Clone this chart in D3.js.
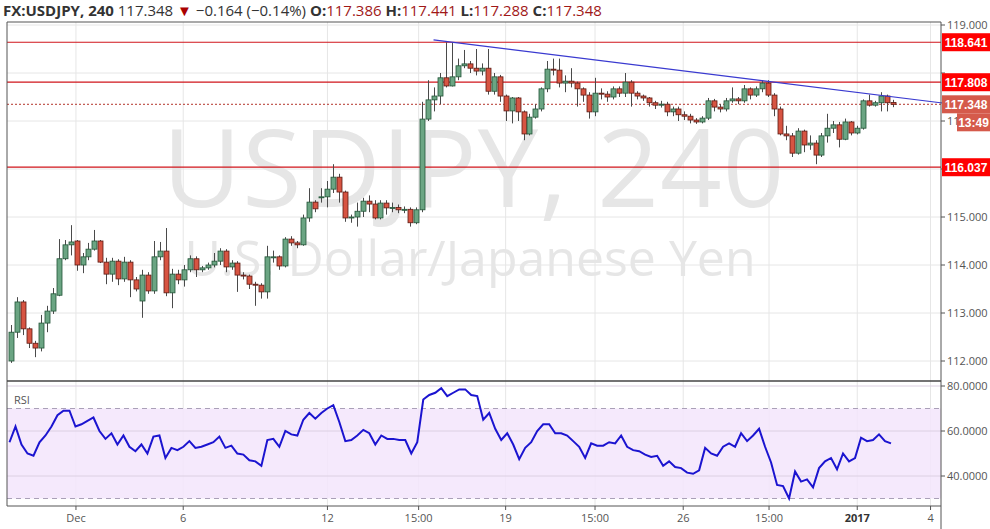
<!DOCTYPE html>
<html><head><meta charset="utf-8">
<script src="https://cdn.jsdelivr.net/npm/d3@7/dist/d3.min.js"></script>
<style>body{margin:0;background:#fff;}svg{display:block;font-family:"Open Sans",Arial,sans-serif;}</style>
</head><body><svg id="c" width="990" height="529"></svg>
<script>
// OHLC candles (4h)
const candles = [
[112.0,112.75,111.96,112.6],[112.6,113.33,112.48,113.23],[113.23,113.27,112.54,112.67],[112.67,112.7,112.27,112.37],[112.37,112.42,112.08,112.27],
[112.27,112.96,112.2,112.79],[112.79,113.15,112.6,113.04],[113.04,113.52,112.98,113.4],[113.37,114.54,113.35,114.13],[114.13,114.52,114.1,114.42],
[114.42,114.83,114.2,114.48],[114.5,114.52,113.88,114.0],[114.0,114.25,113.83,114.17],[114.17,114.46,114.1,114.33],[114.33,114.73,114.3,114.5],
[114.5,114.52,114.04,114.06],[114.06,114.15,113.6,113.81],[113.81,114.15,113.65,114.08],[114.08,114.12,113.58,113.71],[113.71,114.17,113.65,114.06],
[114.06,114.1,113.33,113.69],[113.69,113.75,113.45,113.5],[113.25,113.9,112.9,113.79],[113.79,113.85,113.4,113.46],[113.46,114.5,113.4,114.17],
[114.17,114.48,114.1,114.29],[114.29,114.77,113.35,113.42],[113.42,113.92,113.1,113.81],[113.81,113.9,113.6,113.69],[113.69,114.0,113.55,113.9],
[113.9,114.2,113.85,114.13],[114.13,114.18,113.75,113.9],[113.9,113.98,113.85,113.94],[113.94,114.05,113.9,114.0],[114.0,114.25,113.95,114.08],
[114.08,114.35,114.0,114.29],[114.29,114.33,113.85,113.96],[113.96,114.1,113.9,114.04],[114.04,114.08,113.44,113.79],[113.79,113.85,113.7,113.77],
[113.77,113.8,113.5,113.6],[113.6,113.65,113.15,113.58],[113.58,113.62,113.3,113.44],[113.44,114.4,113.3,114.17],[114.17,114.3,114.05,114.17],
[114.17,114.2,113.9,113.98],[113.98,114.58,113.95,114.54],[114.54,114.6,114.4,114.46],[114.46,114.5,114.35,114.42],[114.42,115.05,114.4,114.98],
[114.98,115.6,114.9,115.31],[115.31,115.35,115.1,115.17],[115.4,115.6,115.3,115.42],[115.42,115.75,115.2,115.58],[115.58,116.1,115.5,115.83],
[115.83,115.9,115.3,115.52],[115.52,115.55,114.9,114.98],[114.98,115.05,114.88,115.0],[115.0,115.3,114.8,115.12],[115.12,115.4,115.0,115.33],
[115.33,115.45,115.1,115.27],[115.27,115.35,114.95,114.98],[114.98,115.35,114.95,115.29],[115.29,115.35,115.05,115.19],[115.19,115.3,115.1,115.2],
[115.2,115.26,115.08,115.15],[115.15,115.22,115.08,115.16],[115.16,115.2,114.8,114.88],[114.88,115.2,114.85,115.15],[115.15,117.4,115.1,117.04],
[117.04,117.85,117.0,117.44],[117.44,117.7,117.2,117.52],[117.52,118.0,117.35,117.9],[117.9,118.64,117.7,117.73],[117.73,118.64,117.72,117.92],
[117.92,118.3,117.85,118.15],[118.15,118.48,118.1,118.19],[118.19,118.25,118.0,118.1],[118.1,118.5,117.95,118.04],[118.04,118.2,117.95,118.1],
[118.1,118.5,117.55,117.62],[117.62,118.0,117.55,117.92],[117.92,117.96,117.4,117.52],[117.52,117.55,117.0,117.21],[117.21,117.5,116.95,117.48],
[117.48,117.5,117.0,117.19],[117.19,117.22,116.6,116.73],[116.73,117.15,116.7,117.08],[117.08,117.35,117.05,117.25],[117.25,117.7,117.2,117.67],
[117.67,118.25,117.6,118.08],[118.08,118.3,117.95,118.06],[118.06,118.3,117.7,117.79],[117.79,117.95,117.6,117.83],[117.83,118.1,117.7,117.79],
[117.79,117.82,117.3,117.67],[117.67,117.7,117.4,117.54],[117.54,117.6,117.05,117.19],[117.19,117.9,117.1,117.58],[117.58,117.68,117.45,117.56],
[117.56,117.62,117.4,117.5],[117.5,117.72,117.45,117.67],[117.67,117.72,117.5,117.58],[117.58,118.0,117.5,117.81],[117.81,117.85,117.3,117.58],
[117.58,117.62,117.45,117.52],[117.52,117.55,117.42,117.48],[117.48,117.5,117.3,117.38],[117.38,117.42,117.25,117.33],[117.33,117.42,117.28,117.35],
[117.35,117.4,117.1,117.19],[117.19,117.3,117.1,117.25],[117.25,117.3,117.0,117.13],[117.13,117.2,117.02,117.1],[117.1,117.15,116.95,117.02],
[117.02,117.06,116.94,116.98],[116.98,117.1,116.95,117.06],[117.06,117.48,117.02,117.42],[117.42,117.46,117.2,117.29],[117.29,117.35,117.18,117.25],
[117.25,117.48,117.2,117.42],[117.42,117.7,117.38,117.46],[117.46,117.5,117.35,117.42],[117.42,117.75,117.38,117.67],[117.67,117.7,117.45,117.54],
[117.54,117.72,117.5,117.67],[117.67,117.85,117.6,117.79],[117.79,117.85,117.5,117.54],[117.54,117.58,117.1,117.25],[117.25,117.3,116.7,116.73],
[116.73,116.9,116.6,116.69],[116.69,116.75,116.25,116.33],[116.33,116.85,116.3,116.79],[116.79,116.82,116.35,116.5],[116.5,116.7,116.4,116.54],
[116.54,116.6,116.1,116.29],[116.29,116.75,116.25,116.69],[116.69,117.15,116.55,116.85],[116.85,117.0,116.75,116.92],[116.92,116.98,116.45,116.62],
[116.62,117.05,116.6,116.98],[116.98,117.0,116.7,116.75],[116.75,116.9,116.72,116.85],[116.85,117.45,116.82,117.42],[117.42,117.55,117.3,117.33],
[117.33,117.42,117.3,117.38],[117.38,117.6,117.2,117.52],[117.52,117.55,117.2,117.38],[117.386,117.441,117.288,117.348]
];
const rsi = [55,62,54,50,49,55,58,62,67,69,69,62,63,64.5,66,60,56.5,59,54,58,53,51,54,50,57.5,58,48,52.5,51.5,53,55.5,52.5,53,54,55,57.5,52.5,53.5,50,49.5,47,46.5,44.5,56,56.5,53,60,58.5,58,65,68,65.5,68,70,71.5,64,55.5,56,58,60.5,59,54,58,56.5,56.5,56,56,50,55,74,76,77,79,75.5,77,78.5,78.5,76,75.5,65,68,61,56,59,54,47.5,52.5,55,60,63,63,59,59,58,55.5,53,48,54.5,53.5,53.5,55,54.5,58,53,51.5,51,49.5,48.5,49,44.5,46.5,44,43.5,41.5,41,42.5,52.5,50,49,53,54.5,53,59,55.5,58,61,53,46,36,35.5,30,42,37.5,38.5,35,43.5,46.5,48,43,50,46.5,48,57,55.5,56,58.5,55.5,54.5];
const tickLabels = ["Dec","6","12","15:00","19","15:00","26","15:00","2017","4"];
const tickIndex = [10.9,28.9,53.1,68.4,83.0,98.0,112.8,127.2,142.0,154.3];
const priceTicks = [112,113,114,115,116,117,118,119];
const rsiTicks = [40,60,80];
const levels = [118.641,117.808,116.037];
const lastPrice = 117.348;
const trendFrom = [70.9,118.69], trendTo = [156.3,117.375];

const svg = d3.select("#c");
const L=7, R=941, T=22, PB=381, RB=506;
const x = d3.scaleLinear().domain([0,candles.length-1]).range([11,893]);
const y = d3.scaleLinear().domain([112,119]).range([361,25]);
const yr = d3.scaleLinear().domain([40,80]).range([476,386]);

const defs = svg.append("defs");
defs.append("clipPath").attr("id","axclip").append("rect").attr("x",941).attr("y",0).attr("width",16).attr("height",529);

const g = svg.append("g");
tickIndex.forEach(t=>g.append("line").attr("x1",x(t)).attr("x2",x(t)).attr("y1",T).attr("y2",RB).attr("stroke","#e6e6e6"));
priceTicks.forEach(p=>g.append("line").attr("x1",L).attr("x2",R).attr("y1",y(p)).attr("y2",y(p)).attr("stroke","#e6e6e6"));
svg.append("rect").attr("x",L).attr("y",yr(70)).attr("width",R-L).attr("height",yr(30)-yr(70)).attr("fill","#f3e5fb").attr("opacity",0.85);
rsiTicks.forEach(p=>svg.append("line").attr("x1",L).attr("x2",R).attr("y1",yr(p)).attr("y2",yr(p)).attr("stroke","#dcd0e2"));
[70,30].forEach(p=>svg.append("line").attr("x1",L).attr("x2",R).attr("y1",yr(p)).attr("y2",yr(p)).attr("stroke","#aaa0b8").attr("stroke-dasharray","5,4"));
// watermark
svg.append("text").attr("x",474).attr("y",207).attr("text-anchor","middle").attr("font-size",108).attr("letter-spacing",1).attr("fill","#e6e6e6").text("USDJPY, 240");
svg.append("text").attr("x",470).attr("y",276).attr("text-anchor","middle").attr("font-size",50).attr("fill","#e6e6e6").text("U.S. Dollar/Japanese Yen");
levels.forEach(p=>svg.append("line").attr("x1",L).attr("x2",R).attr("y1",y(p)).attr("y2",y(p)).attr("stroke","#d0151b").attr("stroke-width",1.2));
svg.append("line").attr("x1",L).attr("x2",R).attr("y1",y(lastPrice)).attr("y2",y(lastPrice)).attr("stroke","#b3342b").attr("stroke-dasharray","2,2");
const cg = svg.append("g");
candles.forEach((d,i)=>{
  const [o,h,l,c]=d, up=c>=o, cx=Math.round(x(i))+0.5;
  cg.append("line").attr("x1",cx).attr("x2",cx).attr("y1",y(h)).attr("y2",y(l)).attr("stroke","#4a4a4a");
  const top=y(Math.max(o,c)), hh=Math.max(1,y(Math.min(o,c))-top);
  cg.append("rect").attr("x",cx-2.5).attr("y",top).attr("width",5).attr("height",hh)
    .attr("fill",up?"#6ba583":"#d75442").attr("stroke",up?"#225437":"#5b1a13").attr("stroke-width",0.8);
});
svg.append("line").attr("x1",x(trendFrom[0])).attr("y1",y(trendFrom[1])).attr("x2",x(trendTo[0])).attr("y2",y(trendTo[1])).attr("stroke","#3a3ad0").attr("stroke-width",1.2);
const xr = d3.scaleLinear().domain([0,rsi.length-1]).range([9.5,891]);
svg.append("path").datum(rsi).attr("fill","none").attr("stroke","#1b14d0").attr("stroke-width",2)
  .attr("d",d3.line().x((d,i)=>xr(i)).y(d=>yr(d)));
svg.append("text").attr("x",14).attr("y",404).attr("font-size",11).attr("fill","#555").text("RSI");
svg.append("line").attr("x1",L).attr("x2",L).attr("y1",T).attr("y2",RB).attr("stroke","#555");
svg.append("line").attr("x1",R).attr("x2",R).attr("y1",T).attr("y2",529).attr("stroke","#555");
svg.append("line").attr("x1",L).attr("x2",R).attr("y1",T).attr("y2",T).attr("stroke","#555");
svg.append("line").attr("x1",L).attr("x2",R).attr("y1",PB).attr("y2",PB).attr("stroke","#444").attr("stroke-width",1.5);
svg.append("line").attr("x1",L).attr("x2",R).attr("y1",RB).attr("y2",RB).attr("stroke","#555");
const ax = svg.append("g").attr("font-size",11).attr("fill","#555");
priceTicks.forEach(p=>{ax.append("line").attr("x1",R).attr("x2",R+4).attr("y1",y(p)).attr("y2",y(p)).attr("stroke","#555");
  if(p===116||p===118) return;
  const t=ax.append("text").attr("x",947).attr("y",y(p)+4).text(p.toFixed(3));
  if(p===117) t.attr("clip-path","url(#axclip)");});
rsiTicks.forEach(p=>{ax.append("line").attr("x1",R).attr("x2",R+4).attr("y1",yr(p)).attr("y2",yr(p)).attr("stroke","#555");
  ax.append("text").attr("x",947).attr("y",yr(p)+4).text(p.toFixed(4));});
tickLabels.forEach((t,i)=>{ax.append("line").attr("x1",x(tickIndex[i])).attr("x2",x(tickIndex[i])).attr("y1",RB).attr("y2",RB+4).attr("stroke","#555");
  ax.append("text").attr("x",x(tickIndex[i])).attr("y",522).attr("text-anchor","middle").attr("font-weight",t==="2017"?"bold":"normal").attr("fill",t==="2017"?"#333":"#555").text(t);});
function box(p,txt,col,xx){const yy=y(p);svg.append("rect").attr("x",xx).attr("y",yy-9).attr("width",990-xx).attr("height",18).attr("fill",col);
  svg.append("text").attr("x",966).attr("y",yy+4.5).attr("text-anchor","middle").attr("font-family","Liberation Sans, Arial").attr("font-size",12).attr("font-weight","bold").attr("fill","#fff").text(txt);}
levels.forEach(p=>box(p,p.toFixed(3),"#f00",942));
box(lastPrice,lastPrice.toFixed(3),"#d55a4b",942);
svg.append("rect").attr("x",957).attr("y",y(lastPrice)+9).attr("width",33).attr("height",18).attr("fill","#d55a4b");
svg.append("text").attr("x",973.5).attr("y",y(lastPrice)+22.5).attr("text-anchor","middle").attr("font-family","Liberation Sans, Arial").attr("font-size",12).attr("font-weight","bold").attr("fill","#fff").text("13:49");
const hd = svg.append("text").attr("x",3).attr("y",16).attr("font-size",15).attr("fill","#333");
hd.append("tspan").attr("font-weight","bold").text("FX:USDJPY, 240 ");
hd.append("tspan").text("117.348 ");
hd.append("tspan").attr("fill","#a00").text("▼");
hd.append("tspan").text(" −0.164 (−0.14%) ");
[["O:","117.386"],["H:","117.441"],["L:","117.288"],["C:","117.348"]].forEach(([k,v])=>{
  hd.append("tspan").attr("font-weight","bold").text(k); hd.append("tspan").attr("fill","#a01818").text(v+" ");});
</script></body></html>
